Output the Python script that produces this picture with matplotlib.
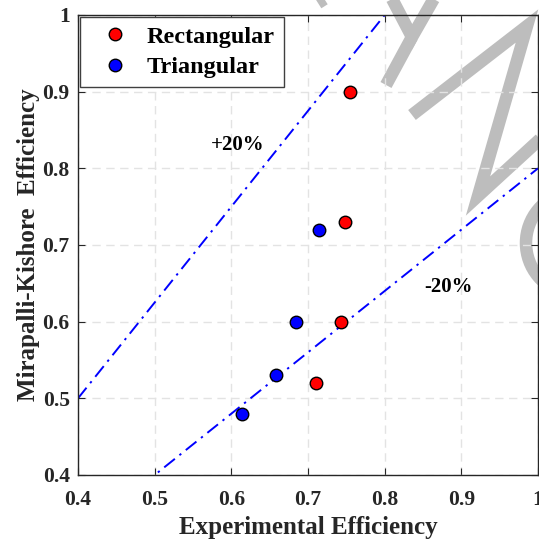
import matplotlib
matplotlib.use("Agg")
import matplotlib.pyplot as plt
from matplotlib.lines import Line2D
from matplotlib.patches import Arc

plt.rcParams['font.family'] = ['Liberation Serif', 'DejaVu Serif']
plt.rcParams['font.weight'] = 'bold'

# data
rect_x = [0.755, 0.748, 0.743, 0.711]
rect_y = [0.90, 0.73, 0.60, 0.52]
tri_x = [0.714, 0.684, 0.658, 0.614]
tri_y = [0.72, 0.60, 0.53, 0.48]

line_x = [0.4, 1.0]
upper_factor = 1.25   # +20% line
lower_factor = 0.8    # -20% line

ticks = [0.4, 0.5, 0.6, 0.7, 0.8, 0.9, 1.0]
tick_labels = ['0.4', '0.5', '0.6', '0.7', '0.8', '0.9', '1']

# watermark strokes (image pixel coords, y downward)
W, H = 539, 540
watermark = [
    [(318, 3), (345, -14)],
    [(390, -5), (412, 37), (436, -5)],
    [(412, 37), (386, 85)],
    [(412, 115), (527, 26), (478, 196), (550, 130)],
]
wm_color = '#bdbdbd'

fig = plt.figure(figsize=(W / 100, H / 100), dpi=100)
ax = fig.add_axes([78 / W, 1 - 475 / H, 460 / W, 460 / H])
ax.patch.set_alpha(0)

# gray watermark behind everything
for pts in watermark:
    xs = [p[0] / W for p in pts]
    ys = [1 - p[1] / H for p in pts]
    fig.add_artist(Line2D(xs, ys, transform=fig.transFigure, color=wm_color,
                          lw=9, solid_joinstyle='miter', solid_capstyle='butt', zorder=-1))
fig.add_artist(Arc((578 / W, 1 - 243 / H), 104 / W, 104 / H, theta1=100, theta2=260,
                   transform=fig.transFigure, color=wm_color, lw=9, zorder=-1))

ax.plot(line_x, [upper_factor * v for v in line_x], color='#0000ff', lw=1.4,
        linestyle=(0, (7, 3, 1.2, 3)), zorder=2)
ax.plot(line_x, [lower_factor * v for v in line_x], color='#0000ff', lw=1.4,
        linestyle=(0, (7, 3, 1.2, 3)), zorder=2)

ax.plot(rect_x, rect_y, 'o', color='#ff0000', mec='black', mew=1.0, ms=9,
        label='Rectangular', zorder=3)
ax.plot(tri_x, tri_y, 'o', color='#0000ff', mec='black', mew=1.0, ms=9,
        label='Triangular', zorder=3)

ax.text(0.608, 0.831, '+20%', fontsize=15, fontweight='bold', ha='center', va='center')
ax.text(0.883, 0.645, '-20%', fontsize=15, fontweight='bold', ha='center', va='center')

ax.set_xlim(0.4, 1.0)
ax.set_ylim(0.4, 1.0)
ax.set_xticks(ticks)
ax.set_xticklabels(tick_labels)
ax.set_yticks(ticks)
ax.set_yticklabels(tick_labels)
ax.tick_params(direction='in', length=5, width=0.8, top=True, right=True,
               labelsize=15.5, colors='#262626', pad=6)
ax.tick_params(axis='x', pad=11)
for s in ax.spines.values():
    s.set_color('#262626')
    s.set_linewidth(1.0)

ax.grid(True, color='#e3e3e3', linestyle=(0, (6, 4)), lw=1.0)
ax.set_axisbelow(True)

ax.set_xlabel('Experimental Efficiency', fontsize=18, fontweight='bold', color='#262626')
ax.set_ylabel('Mirapalli-Kishore  Efficiency', fontsize=18, fontweight='bold',
              color='#262626', labelpad=2)

leg = ax.legend(loc='upper left', fontsize=17.5, frameon=True, fancybox=False,
                borderaxespad=0.1, handletextpad=0.25, labelspacing=0.35,
                borderpad=0.35, handlelength=2.14)
leg.get_frame().set_edgecolor('#404040')
leg.get_frame().set_linewidth(1.0)
leg.get_frame().set_alpha(1)

fig.savefig('out.png', dpi=100)
